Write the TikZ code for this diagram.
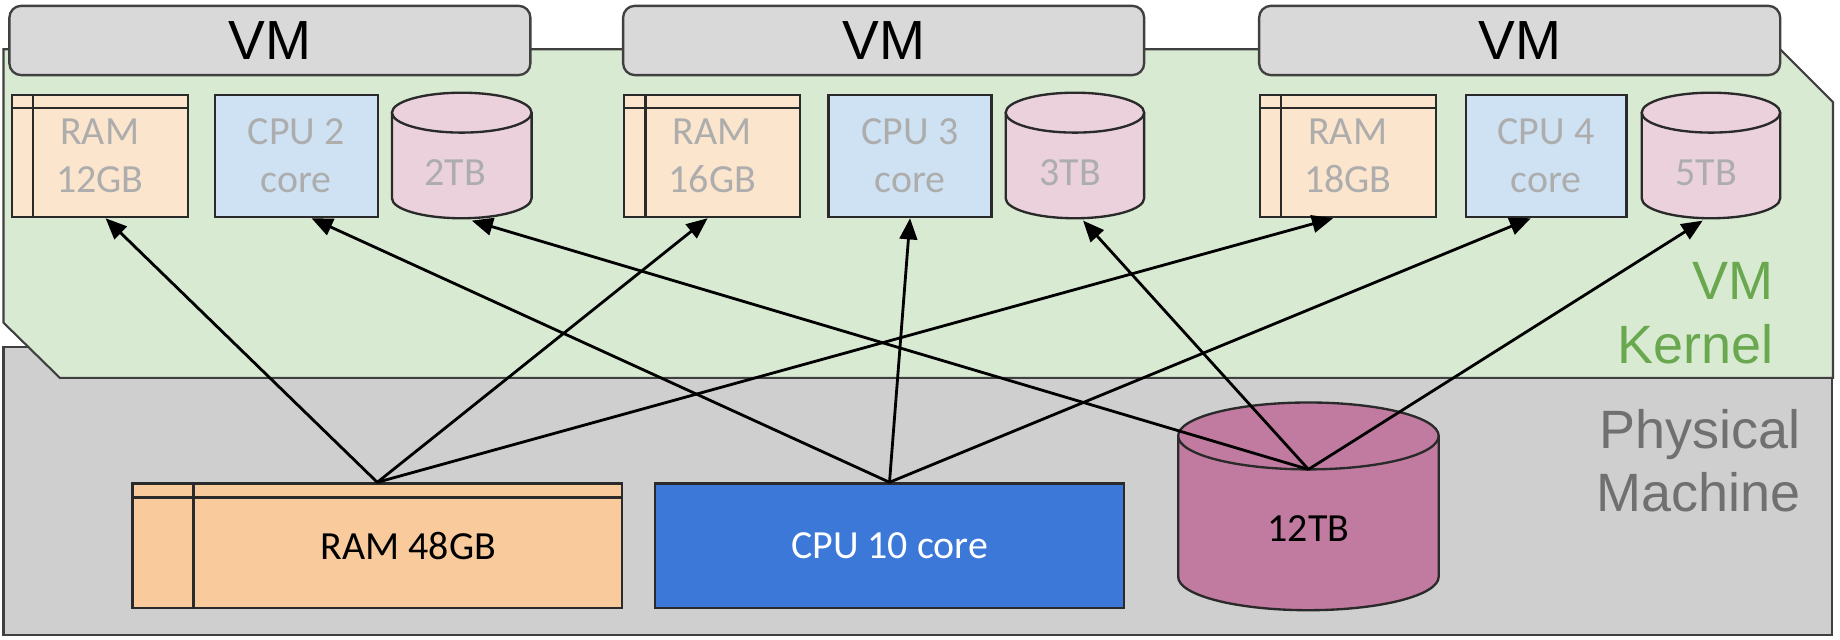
\documentclass[tikz,border=0pt]{standalone}
\usepackage{fontspec}
\setmainfont{Liberation Sans}
\newfontfamily\calfont{Carlito}
\usetikzlibrary{arrows.meta}
\definecolor{headgray}{HTML}{D9D9D9}
\definecolor{kernelgreen}{HTML}{D9EAD3}
\definecolor{physgray}{HTML}{CFCFCF}
\definecolor{ramlight}{HTML}{FCE5CD}
\definecolor{cpulight}{HTML}{CFE2F3}
\definecolor{cyllight}{HTML}{EAD1DC}
\definecolor{ramdark}{HTML}{F9CB9C}
\definecolor{cpublue}{HTML}{3C78D8}
\definecolor{cyldark}{HTML}{C27BA0}
\definecolor{edgecol}{HTML}{2A2A2A}
\definecolor{framecol}{HTML}{404040}
\definecolor{smalltext}{HTML}{ADADAD}
\definecolor{kgreen}{HTML}{6AA84F}
\definecolor{ptext}{HTML}{707070}
\newcommand\drawcyl[7]{%
  \pgfmathsetmacro\cylcx{(#2+#3)/2}%
  \pgfmathsetmacro\cylrx{(#3-#2)/2}%
  \pgfmathsetmacro\cylk{0.5523*#6}%
  \pgfmathsetmacro\cylkx{0.5523*\cylrx}%
  \fill[#7] (#2,{#4+#6}) -- (#2,{#5-#6}) .. controls (#2,{#5-#6+\cylk}) and ({\cylcx-\cylkx},#5) .. (\cylcx,#5) .. controls ({\cylcx+\cylkx},#5) and (#3,{#5-#6+\cylk}) .. (#3,{#5-#6}) -- (#3,{#4+#6}) -- cycle;
  \draw[cylline] (#2,{#4+#6}) -- (#2,{#5-#6}) .. controls (#2,{#5-#6+\cylk}) and ({\cylcx-\cylkx},#5) .. (\cylcx,#5) .. controls ({\cylcx+\cylkx},#5) and (#3,{#5-#6+\cylk}) .. (#3,{#5-#6}) -- (#3,{#4+#6});
  \draw[cylline, fill=#7] (\cylcx,{#4+#6}) ellipse [x radius=\cylrx, y radius=#6];
  \coordinate (#1) at (\cylcx,{#4+2*#6});
}
\begin{document}
\begin{tikzpicture}[x=0.5pt,y=-0.5pt,
  frame/.style={draw=framecol, line width=0.9pt},
  vmhead/.style={draw=framecol, line width=1pt, fill=headgray, rounded corners=5pt, minimum width=222pt, minimum height=29.5pt, inner sep=0pt, font=\fontsize{23.5}{28}\selectfont},
  box/.style={draw=edgecol, line width=1pt, inner sep=0pt, align=center, text=smalltext, minimum height=52pt, font=\calfont\fontsize{17}{20.5}\selectfont},
  smallram/.style={box, fill=ramlight, minimum width=75pt},
  smallcpu/.style={box, fill=cpulight},
  cylline/.style={draw=edgecol, line width=1pt},
  cyltext/.style={inner sep=0pt, text=smalltext, font=\calfont\fontsize{17}{20.5}\selectfont},
  bigbox/.style={draw=edgecol, line width=1pt, inner sep=0pt, minimum width=208.5pt, minimum height=53pt},
  bigtext/.style={inner sep=0pt, font=\calfont\fontsize{17}{20}\selectfont},
  innerline/.style={draw=edgecol, line width=1pt},
  sidelabel/.style={anchor=base east, inner sep=0pt, font=\fontsize{23}{27}\selectfont},
  arr/.style={draw=black, line width=1.2pt, -{Triangle[length=9pt,width=7.5pt]}}
]
\useasboundingbox (0,0) rectangle (1568,545);
\fill[white] (0,0) rectangle (1568,545);

% physical machine and VM kernel areas
\draw[frame, fill=physgray] (3,296) rectangle (1561,541);
\draw[frame, fill=kernelgreen] (3,42) -- (1517,42) -- (1562,87) -- (1562,322) -- (51,322) -- (3,275) -- cycle;

% VM headers
\node[vmhead] (vm1) at (230,34.5) {VM};
\node[vmhead] (vm2) at (753,34.5) {VM};
\node[vmhead] (vm3) at (1295,34.5) {VM};

% VM 1
\node[smallram] (ram1) at (85,133) {RAM\\12GB};
\draw[innerline] ([xshift=9.5pt]ram1.north west) -- ([xshift=9.5pt]ram1.south west);
\draw[innerline] ([yshift=-6pt]ram1.north west) -- ([yshift=-6pt]ram1.north east);
\node[smallcpu, minimum width=69.5pt] (cpu1) at (252.5,133) {CPU 2\\core};
\drawcyl{tb2b}{334}{453}{79}{186}{17}{cyllight}
\node[cyltext] (tb2) at (388,147) {2TB};

% VM 2
\node[smallram] (ram2) at (607,133) {RAM\\16GB};
\draw[innerline] ([xshift=9.5pt]ram2.north west) -- ([xshift=9.5pt]ram2.south west);
\draw[innerline] ([yshift=-6pt]ram2.north west) -- ([yshift=-6pt]ram2.north east);
\node[smallcpu, minimum width=69.5pt] (cpu2) at (775.5,133) {CPU 3\\core};
\drawcyl{tb3b}{857}{975}{79}{186}{17}{cyllight}
\node[cyltext] (tb3) at (912,147) {3TB};

% VM 3
\node[smallram] (ram3) at (1148.5,133) {RAM\\18GB};
\draw[innerline] ([xshift=9.5pt]ram3.north west) -- ([xshift=9.5pt]ram3.south west);
\draw[innerline] ([yshift=-6pt]ram3.north west) -- ([yshift=-6pt]ram3.north east);
\node[smallcpu, minimum width=68.5pt] (cpu3) at (1317.5,133) {CPU 4\\core};
\drawcyl{tb5b}{1399}{1517}{79}{186}{17}{cyllight}
\node[cyltext] (tb5) at (1454,147) {5TB};

% labels
\node[sidelabel, text=kgreen] (vmk1) at (1512,255) {VM};
\node[sidelabel, text=kgreen] (vmk2) at (1512,310) {Kernel};
\node[sidelabel, text=ptext] (pm1) at (1535,382) {Physical};
\node[sidelabel, text=ptext] (pm2) at (1535,436) {Machine};

% physical resources
\node[bigbox, fill=ramdark] (ram48) at (321.5,465) {};
\draw[innerline] ([xshift=26.5pt]ram48.north west) -- ([xshift=26.5pt]ram48.south west);
\draw[innerline] ([yshift=-6.5pt]ram48.north west) -- ([yshift=-6.5pt]ram48.north east);
\node[bigtext] (ram48t) at (348,465) {RAM 48GB};
\node[bigbox, fill=cpublue, minimum width=200pt, text=white, font=\calfont\fontsize{17}{20}\selectfont] (cpu10) at (758,465) {CPU 10 core};
\drawcyl{tb12top}{1004}{1226}{343}{520}{28.5}{cyldark}
\node[bigtext] (tb12) at (1115,450) {12TB};

% connectors
\draw[arr] (ram48.north) -- ([xshift=2.5pt]ram1.south);
\draw[arr] (ram48.north) -- ([xshift=-2pt]ram2.south);
\draw[arr] (ram48.north) -- ([xshift=-6.25pt]ram3.south);
\draw[arr] (cpu10.north) -- ([xshift=6.5pt]cpu1.south);
\draw[arr] (cpu10.north) -- (cpu2.south);
\draw[arr] (cpu10.north) -- ([xshift=-6.5pt]cpu3.south);
\coordinate (tb2tip) at (402,188);
\coordinate (tb3tip) at (923,188);
\coordinate (tb5tip) at (1451,188);
\draw[arr] (tb12top) -- (tb2tip);
\draw[arr] (tb12top) -- (tb3tip);
\draw[arr] (tb12top) -- (tb5tip);
\end{tikzpicture}
\end{document}
